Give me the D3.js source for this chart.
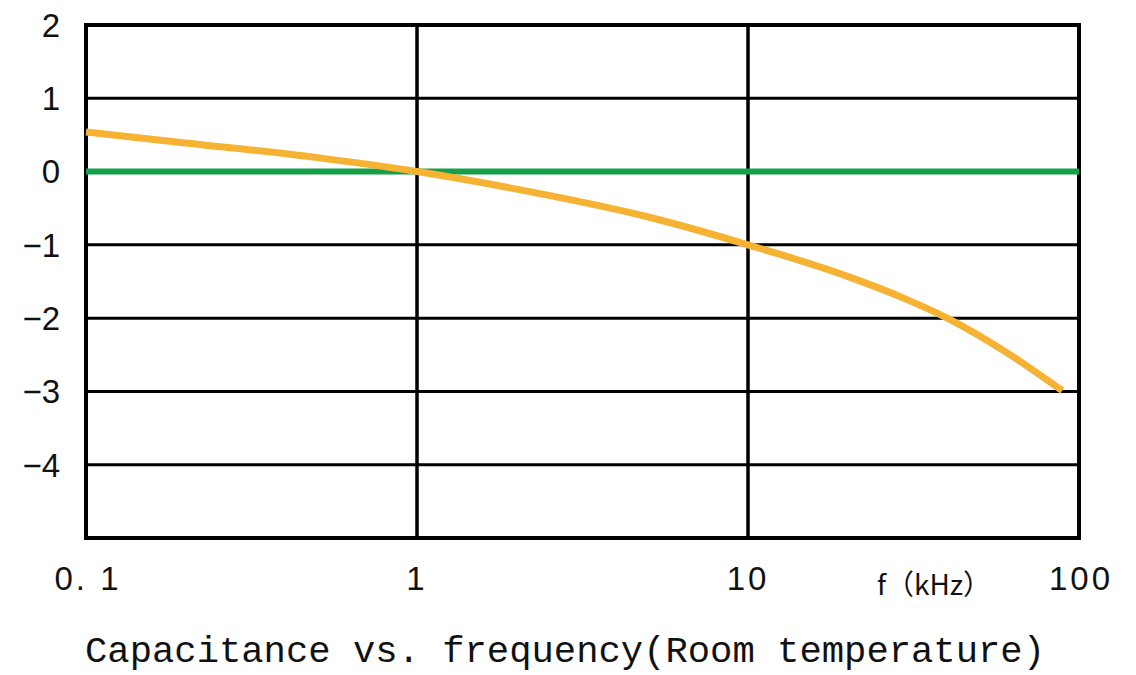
<!DOCTYPE html>
<html><head><meta charset="utf-8">
<script src="https://cdn.jsdelivr.net/npm/d3@7"></script>
<style>html,body{margin:0;padding:0;background:#fff;}svg{display:block;}</style>
</head><body>
<svg id="c" width="1136" height="675"></svg>
<script>
const freq = [0.1, 0.2, 0.5, 1, 2, 5, 10, 20, 30, 40, 60, 89];
const capChange = [0.54, 0.39, 0.19, 0, -0.24, -0.62, -1.0, -1.43, -1.74, -2.0, -2.46, -2.99];
const refLine = [0, 0];
const refFreq = [0.1, 100];
const yTicks = [2, 1, 0, -1, -2, -3, -4, -5];
const yTickLabels = ["2", "1", "0", "\u22121", "\u22122", "\u22123", "\u22124", ""];
const xTicks = [0.1, 1, 10, 100];
const xTickLabels = ["0. 1", "1", "10", "100"];
const xUnit = "f\uFF08kHz\uFF09";
const title = "Capacitance vs. frequency(Room temperature)";

const svg = d3.select("#c");
const x = d3.scaleLog().domain([0.1, 100]).range([86, 1079]);
const y = d3.scaleLinear().domain([-5, 2]).range([538, 25]);

// horizontal grid
svg.append("g").selectAll("line").data(yTicks).join("line")
  .attr("x1", x(0.1)).attr("x2", x(100))
  .attr("y1", d => y(d)).attr("y2", d => y(d))
  .attr("stroke", "#000").attr("stroke-width", 3);
// vertical grid
svg.append("g").selectAll("line").data(xTicks).join("line")
  .attr("x1", d => x(d)).attr("x2", d => x(d))
  .attr("y1", y(2)).attr("y2", y(-5))
  .attr("stroke", "#000").attr("stroke-width", 3.5);
// frame
svg.append("rect").attr("x", x(0.1)).attr("y", y(2))
  .attr("width", x(100) - x(0.1)).attr("height", y(-5) - y(2))
  .attr("fill", "none").attr("stroke", "#000").attr("stroke-width", 4);

// y labels
svg.append("g").selectAll("text").data(yTicks.map((d, i) => [d, yTickLabels[i]])).join("text")
  .attr("x", 60).attr("y", d => y(d[0]))
  .attr("dy", "0.36em").attr("text-anchor", "end")
  .attr("font-family", "Liberation Sans, Arial, sans-serif").attr("font-size", 33)
  .attr("fill", "#111").text(d => d[1]);

// x labels
const xOff = [2, 0, 0, 2];
svg.append("g").selectAll("text").data(xTicks.map((d, i) => [d, xTickLabels[i], i])).join("text")
  .attr("x", d => x(d[0]) + xOff[d[2]]).attr("y", 590)
  .attr("text-anchor", "middle")
  .attr("font-family", "Liberation Sans, Arial, sans-serif").attr("font-size", 33)
  .attr("letter-spacing", 3)
  .attr("fill", "#111").text(d => d[1]);

svg.append("text").attr("x", 934).attr("y", 595).attr("text-anchor", "middle")
  .attr("font-family", "Noto Sans CJK SC, sans-serif").attr("font-size", 28)
  .attr("fill", "#111").text(xUnit);

// reference line
svg.append("path").datum(refFreq.map((f, i) => [f, refLine[i]]))
  .attr("d", d3.line().x(d => x(d[0])).y(d => y(d[1])))
  .attr("fill", "none").attr("stroke", "#14A048").attr("stroke-width", 6);

// curve
svg.append("path").datum(freq.map((f, i) => [f, capChange[i]]))
  .attr("d", d3.line().x(d => x(d[0])).y(d => y(d[1])).curve(d3.curveMonotoneX))
  .attr("fill", "none").attr("stroke", "#F6B333").attr("stroke-width", 7);

// title
svg.append("text").attr("x", 85).attr("y", 662)
  .attr("font-family", "Liberation Mono, DejaVu Sans Mono, monospace").attr("font-size", 37)
  .attr("textLength", 960).attr("lengthAdjust", "spacingAndGlyphs")
  .attr("fill", "#111").text(title);
</script>
</body></html>
